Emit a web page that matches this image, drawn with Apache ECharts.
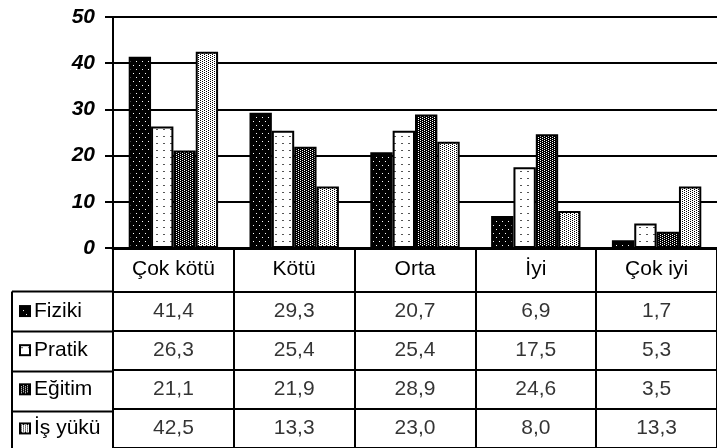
<!DOCTYPE html>
<html>
<head>
<meta charset="utf-8">
<script src="https://cdn.jsdelivr.net/npm/echarts@6/dist/echarts.min.js"></script>
<style>
html,body{margin:0;padding:0;background:#fff;}
#c{width:717px;height:448px;}
</style>
</head>
<body>
<div id="c"></div>
<script>
const categories = ['Çok kötü', 'Kötü', 'Orta', 'İyi', 'Çok iyi'];
const seriesNames = ['Fiziki', 'Pratik', 'Eğitim', 'İş yükü'];
const fiziki = [41.4, 29.3, 20.7, 6.9, 1.7];
const pratik = [26.3, 25.4, 25.4, 17.5, 5.3];
const egitim = [21.1, 21.9, 28.9, 24.6, 3.5];
const isYuku = [42.5, 13.3, 23.0, 8.0, 13.3];
const yTicks = [0, 10, 20, 30, 40, 50];

const seriesValues = [fiziki, pratik, egitim, isYuku];

function pattern(w, h, bg, fg, pts, dw) {
  const c = document.createElement('canvas');
  c.width = w; c.height = h;
  const ctx = c.getContext('2d');
  ctx.fillStyle = bg; ctx.fillRect(0, 0, w, h);
  ctx.fillStyle = fg;
  pts.forEach(p => ctx.fillRect(p[0], p[1], dw || 1, 1));
  return c;
}
const patterns = [
  pattern(6, 8, '#000', '#fff', [[1, 1], [4, 5]]),
  pattern(7, 7, '#fff', '#555', [[2, 3]], 2),
  pattern(4, 2, '#000', '#fff', [[0, 0], [2, 1]]),
  pattern(4, 2, '#fff', '#000', [[0, 0], [2, 1]])
];
function icon(p) {
  const s = 12;
  const c = document.createElement('canvas');
  c.width = s; c.height = s;
  const ctx = c.getContext('2d');
  ctx.fillStyle = ctx.createPattern(p, 'repeat');
  ctx.fillRect(0, 0, s, s);
  ctx.strokeStyle = '#000'; ctx.lineWidth = 2;
  ctx.strokeRect(1, 1, s - 2, s - 2);
  return c;
}
const icons = patterns.map(icon);

const FONT = '"Liberation Sans", Arial, sans-serif';
const gridLeft = 113, gridWidth = 612;
const rowH = 40, tableTop = 291.5;

const barSeries = seriesNames.map((n, i) => ({
  name: n,
  type: 'bar',
  xAxisIndex: 0, yAxisIndex: 0,
  data: seriesValues[i],
  barGap: 0,
  barCategoryGap: '26%',
  itemStyle: { color: { image: patterns[i], repeat: 'repeat' }, borderColor: '#000', borderWidth: 2 },
  emphasis: { disabled: true }
}));

const cellData = [];
seriesValues.forEach((arr, si) => arr.forEach((v, ci) => cellData.push([ci, si, v])));

const rich = { t: { fontFamily: FONT, fontSize: 21, color: '#000', padding: [0, 0, 0, 3] } };
icons.forEach((p, i) => {
  rich['i' + i] = { width: 12, height: 12, backgroundColor: { image: p } };
});

const chart = echarts.init(document.getElementById('c'), null, { renderer: 'canvas' });
chart.setOption({
  animation: false,
  backgroundColor: '#fff',
  grid: [
    { left: gridLeft, top: 17, width: gridWidth, height: 231 },
    { left: gridLeft, top: tableTop, width: gridWidth, height: rowH * 4 }
  ],
  xAxis: [
    {
      type: 'category', gridIndex: 0, data: categories,
      axisLine: { lineStyle: { color: '#000', width: 3 } },
      axisTick: { show: true, interval: 0, length: 44, lineStyle: { color: '#000', width: 2 } },
      axisLabel: { interval: 0, color: '#000', fontFamily: FONT, fontSize: 21, margin: 11 }
    },
    {
      type: 'category', gridIndex: 1, data: categories, position: 'top',
      axisLine: { show: true, lineStyle: { color: '#000', width: 2 } },
      axisTick: { show: false }, axisLabel: { show: false },
      splitLine: { show: true, interval: 0, lineStyle: { color: '#000', width: 2 } }
    }
  ],
  yAxis: [
    {
      type: 'value', gridIndex: 0, min: yTicks[0], max: yTicks[yTicks.length - 1], interval: 10,
      axisLine: { show: true, lineStyle: { color: '#000', width: 2 } },
      axisTick: { show: true, length: 8, lineStyle: { color: '#000', width: 2 } },
      axisLabel: { color: '#000', fontFamily: FONT, fontSize: 21, fontWeight: 'bold', fontStyle: 'italic', margin: 18 },
      splitLine: { show: true, lineStyle: { color: '#000', width: 2 } }
    },
    {
      type: 'category', gridIndex: 1, data: seriesNames, inverse: true,
      axisLine: { show: true, lineStyle: { color: '#000', width: 2 } },
      axisTick: { show: false },
      axisLabel: {
        interval: 0, align: 'left', margin: 94,
        formatter: (v, idx) => '{i' + idx + '|}{t|' + v + '}',
        rich: rich
      },
      splitLine: { show: true, interval: 0, lineStyle: { color: '#000', width: 2 } }
    }
  ],
  series: barSeries.concat([{
    type: 'scatter', xAxisIndex: 1, yAxisIndex: 1,
    data: cellData, symbolSize: 1,
    itemStyle: { color: 'rgba(0,0,0,0)' },
    label: {
      show: true, position: 'inside', color: '#000', fontFamily: FONT, fontSize: 21,
      formatter: p => p.value[2].toFixed(1).replace('.', ',')
    },
    emphasis: { disabled: true }
  }]),
  graphic: [
    { type: 'line', shape: { x1: 12, y1: tableTop, x2: 12, y2: 448 }, style: { stroke: '#000', lineWidth: 2 } }
  ].concat([0, 1, 2, 3].map(k => ({
    type: 'line', shape: { x1: 12, y1: tableTop + rowH * k, x2: gridLeft, y2: tableTop + rowH * k },
    style: { stroke: '#000', lineWidth: 2 }
  })))
});
</script>
</body>
</html>
